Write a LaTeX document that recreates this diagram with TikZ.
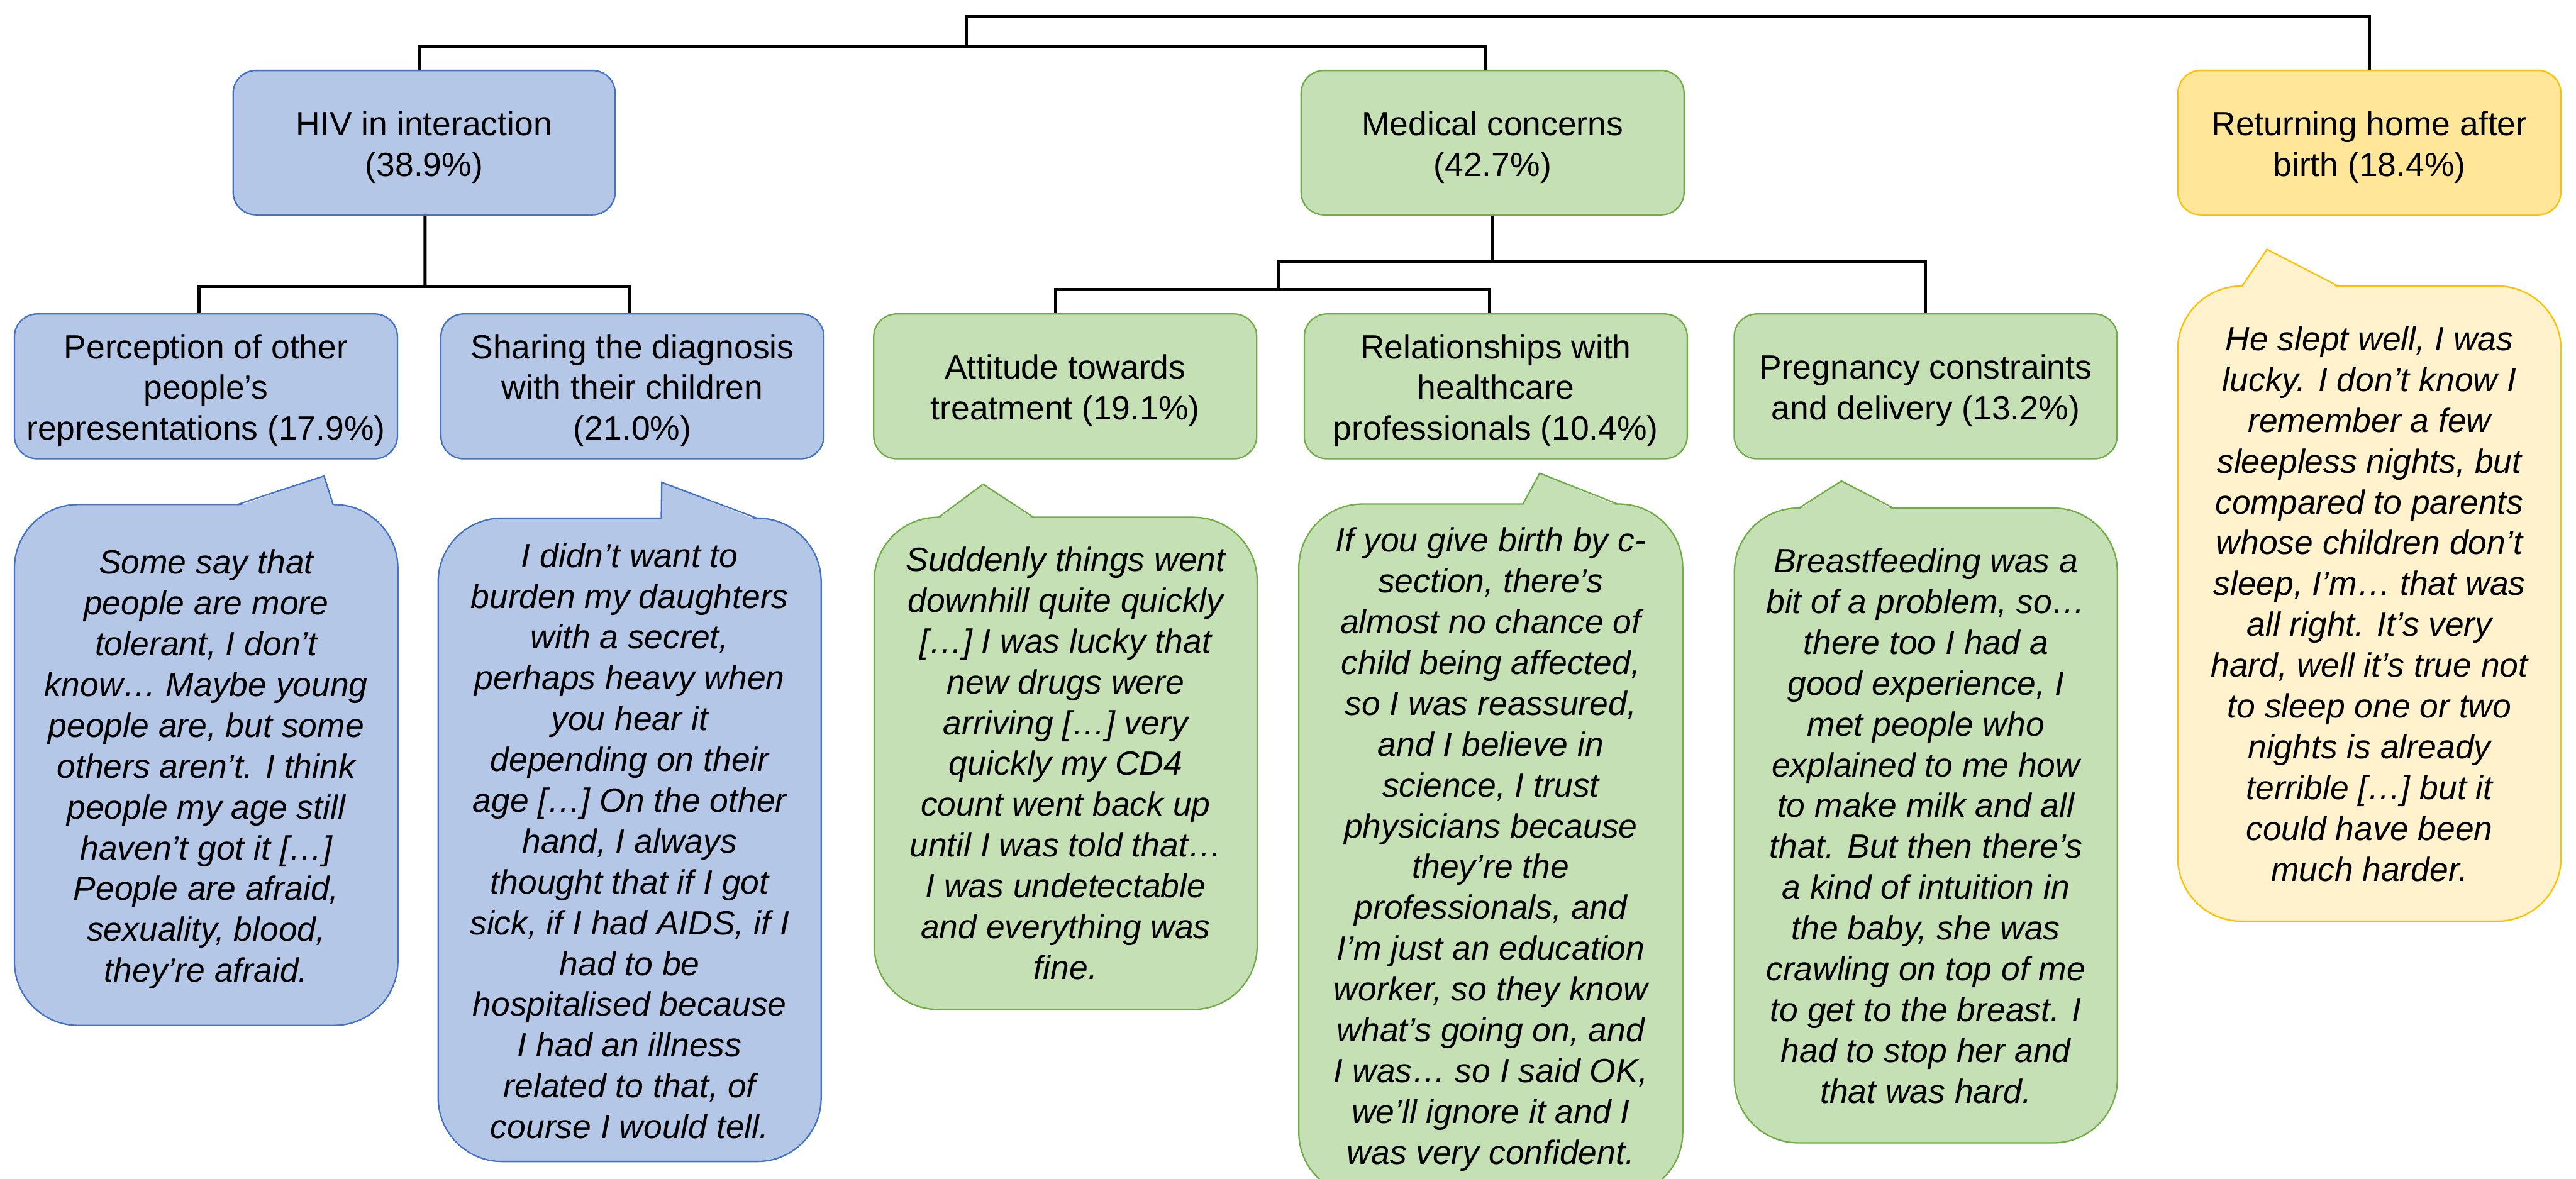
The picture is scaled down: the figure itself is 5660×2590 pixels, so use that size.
\documentclass[tikz,border=0pt]{standalone}
\usepackage{fontspec}
\setmainfont{Liberation Sans}
\definecolor{blueF}{HTML}{B4C7E7}
\definecolor{blueD}{HTML}{4472C4}
\definecolor{greenF}{HTML}{C5E0B4}
\definecolor{greenD}{HTML}{70AD47}
\definecolor{yelF}{HTML}{FFE699}
\definecolor{yelL}{HTML}{FFF2CC}
\definecolor{yelD}{HTML}{FFC000}
\begin{document}
\begin{tikzpicture}[x=0.01cm,y=-0.01cm,
  conn/.style={line width=2pt},
  box/.style={draw, line width=0.9pt, rounded corners=0.5cm, minimum width=8.41cm, minimum height=3.18cm, inner sep=0pt},
  bbox/.style={box, draw=blueD, fill=blueF},
  gbox/.style={box, draw=greenD, fill=greenF},
  ybox/.style={box, draw=yelD, fill=yelF},
  quote/.style={draw, line width=0.9pt, rounded corners=1.4cm, inner sep=0pt, minimum width=8.41cm},
  bquote/.style={quote, draw=blueD, fill=blueF},
  gquote/.style={quote, draw=greenD, fill=greenF},
  yquote/.style={quote, draw=yelD, fill=yelL},
  boxtext/.style={anchor=base, inner sep=0pt, align=center, font=\fontsize{21}{25.5}\selectfont},
  quotetext/.style={boxtext, font=\fontsize{21}{25.5}\selectfont\itshape},
  tailline/.style={line width=0.9pt, line join=miter}
]
\useasboundingbox (0,0) rectangle (5660,2590);
\clip (0,0) rectangle (5660,2590);

% text nodes are anchored at the baseline of their last line

% ---- top level boxes
\node[bbox, minimum width=8.39cm, minimum height=3.17cm] (hiv) at (932,313.5) {};
\node[boxtext] (hivt) at (932,387) {HIV in interaction\\(38.9\%)};
\node[gbox, minimum height=3.17cm] (med) at (3279.5,313.5) {};
\node[boxtext] (medt) at (3279.5,387) {Medical concerns\\(42.7\%)};
\node[ybox, minimum height=3.17cm] (ret) at (5206,313.5) {};
\node[boxtext] (rett) at (5206,387) {Returning home after\\birth (18.4\%)};

% ---- sub-theme boxes
\node[bbox] (per) at (452.5,849) {};
\node[boxtext] (pert) at (452.5,967) {Perception of other\\people’s\\representations (17.9\%)};
\node[bbox] (sha) at (1389.5,849) {};
\node[boxtext] (shat) at (1389.5,967) {Sharing the diagnosis\\with their children\\(21.0\%)};
\node[gbox] (att) at (2340.5,849) {};
\node[boxtext] (attt) at (2340.5,922) {Attitude towards\\treatment (19.1\%)};
\node[gbox] (rel) at (3286.5,849) {};
\node[boxtext] (relt) at (3286.5,967) {Relationships with\\healthcare\\professionals (10.4\%)};
\node[gbox] (pre) at (4231,849) {};
\node[boxtext] (pret) at (4231,922) {Pregnancy constraints\\and delivery (13.2\%)};

% ---- connectors
\coordinate (r0) at (2123,37);
\coordinate (r1) at (2123,103);
\draw[conn] (r1) -- (r0) -| (ret.north);
\draw[conn] ([xshift=-0.11cm]hiv.north) |- (r1) -| ([xshift=-0.155cm]med.north);

\coordinate (h1) at (934,629);
\draw[conn] ([xshift=0.02cm]hiv.south) -- (h1);
\draw[conn] ([xshift=-0.155cm]per.north) |- (h1) -| ([xshift=-0.065cm]sha.north);

\coordinate (m1) at (3279.5,576);
\coordinate (m2) at (2808,576);
\coordinate (m3) at (2808,636);
\draw[conn] (med.south) -- (m1);
\draw[conn] (m3) -- (m2) -| (pre.north);
\draw[conn] ([xshift=-0.205cm]att.north) |- (m3) -| ([xshift=-0.135cm]rel.north);

% ---- quotes
\node[bquote, minimum width=8.42cm, minimum height=11.44cm] (q1) at (453,1681) {};
\fill[blueF] (521,1113) -- (712,1046) -- (732,1113) -- cycle;
\draw[tailline, blueD] (521,1109) -- (712,1046) -- (732,1109);
\node[quotetext] (q1t) at (453,2158) {Some say that\\people are more\\tolerant, I don’t\\know… Maybe young\\people are, but some\\others aren’t. I think\\people my age still\\haven’t got it […]\\{}People are afraid,\\sexuality, blood,\\they’re afraid.};

\node[bquote, minimum width=8.41cm, minimum height=14.13cm] (q2) at (1383.5,1845.5) {};
\fill[blueF] (1453,1143) -- (1454,1060) -- (1664,1143) -- cycle;
\draw[tailline, blueD] (1453,1139) -- (1454,1060) -- (1664,1139);
\node[quotetext] (q2t) at (1383.5,2502) {I didn’t want to\\burden my daughters\\with a secret,\\perhaps heavy when\\you hear it\\depending on their\\age […] On the other\\hand, I always\\thought that if I got\\sick, if I had AIDS, if I\\had to be\\hospitalised because\\I had an illness\\related to that, of\\course I would tell.};

\node[gquote, minimum width=8.41cm, minimum height=10.81cm] (q3) at (2341.5,1677.5) {};
\fill[greenF] (2062,1141) -- (2160,1064) -- (2271,1141) -- cycle;
\draw[tailline, greenD] (2062,1137) -- (2160,1064) -- (2271,1137);
\node[quotetext] (q3t) at (2341.5,2152) {Suddenly things went\\downhill quite quickly\\{}[…] I was lucky that\\new drugs were\\arriving […] very\\quickly my CD4\\count went back up\\until I was told that…\\I was undetectable\\and everything was\\fine.};

\node[gquote, minimum width=8.43cm, minimum height=15.2cm] (q4) at (3275.5,1868) {};
\fill[greenF] (3346,1112) -- (3383,1040) -- (3555,1112) -- cycle;
\draw[tailline, greenD] (3346,1108) -- (3383,1040) -- (3555,1108);
\node[quotetext] (q4t) at (3275.5,2558) {If you give birth by c-\\section, there’s\\almost no chance of\\child being affected,\\so I was reassured,\\and I believe in\\science, I trust\\physicians because\\they’re the\\professionals, and\\I’m just an education\\worker, so they know\\what’s going on, and\\I was… so I said OK,\\we’ll ignore it and I\\was very confident.};

\node[gquote, minimum width=8.41cm, minimum height=13.94cm] (q5) at (4231.5,1814) {};
\fill[greenF] (3952,1121) -- (4046,1057) -- (4161,1121) -- cycle;
\draw[tailline, greenD] (3952,1117) -- (4046,1057) -- (4161,1117);
\node[quotetext] (q5t) at (4231.5,2424) {Breastfeeding was a\\bit of a problem, so…\\there too I had a\\good experience, I\\met people who\\explained to me how\\to make milk and all\\that. But then there’s\\a kind of intuition in\\the baby, she was\\crawling on top of me\\to get to the breast. I\\had to stop her and\\that was hard.};

\node[yquote, minimum width=8.42cm, minimum height=13.95cm] (q6) at (5206,1326.5) {};
\fill[yelL] (4926,633) -- (4981,548) -- (5138,633) -- cycle;
\draw[tailline, yelD] (4926,629) -- (4981,548) -- (5138,629);
\node[quotetext] (q6t) at (5206,1936) {He slept well, I was\\lucky. I don’t know I\\remember a few\\sleepless nights, but\\compared to parents\\whose children don’t\\sleep, I’m… that was\\all right. It’s very\\hard, well it’s true not\\to sleep one or two\\nights is already\\terrible […] but it\\could have been\\much harder.};
\end{tikzpicture}
\end{document}
